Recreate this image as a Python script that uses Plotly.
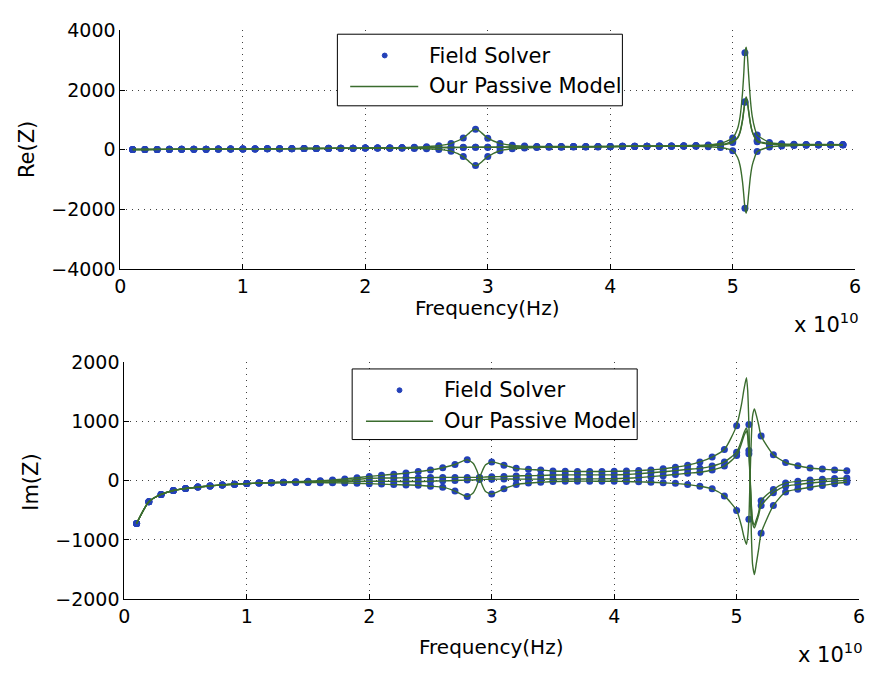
import plotly.graph_objects as go

# Sample frequencies of the field solver (GHz) and extra model frequencies near resonances
freq_ghz = list(range(1, 60))
extra_ghz = [28.5, 28.75, 29.25, 29.5, 50.4, 50.6, 50.8, 50.9, 51.1, 51.2, 51.3, 51.45, 51.6, 51.8]

# Re(Z) at the solver frequencies, four matrix entries
re_a = [10, 12, 14, 16, 18, 20, 22, 24, 26, 28,
        31, 34, 37, 40, 43, 46, 49, 52, 55, 58,
        61, 64, 70, 88, 106, 135, 215, 395, 690, 390,
        215, 150, 125, 115, 112, 110, 108, 107, 107, 108,
        118, 120, 122, 123, 122, 120, 116, 106, 79, -30,
        -1954, -60, 95, 130, 145, 155, 160, 165, 168]
re_b = [9, 11, 13, 15, 17, 19, 21, 23, 25, 27,
        30, 33, 36, 39, 42, 45, 48, 51, 54, 57,
        58, 52, 51, 47, 36, 14, -44, -226, -528, -226,
        -32, 34, 62, 77, 84, 88, 92, 95, 98, 101,
        118, 120, 122, 124, 130, 139, 148, 165, 210, 395,
        3250, 500, 246, 200, 185, 180, 178, 176, 175]
re_c = [11, 13, 15, 17, 19, 21, 23, 25, 27, 29,
        32, 35, 38, 41, 44, 47, 50, 53, 56, 59,
        62, 65, 68, 71, 74, 77, 80, 83, 86, 89,
        92, 95, 98, 101, 104, 106, 108, 110, 112, 114,
        116, 118, 120, 122, 124, 128, 133, 145, 167, 290,
        1610, 313, 200, 180, 172, 170, 170, 170, 170]
re_d = [10, 12, 14, 16, 18, 20, 22, 24, 26, 28,
        30, 33, 36, 39, 42, 45, 48, 51, 54, 57,
        60, 63, 66, 69, 72, 75, 78, 81, 84, 86,
        89, 92, 95, 98, 101, 103, 105, 107, 109, 111,
        113, 115, 117, 119, 121, 125, 130, 140, 160, 245,
        1590, 270, 190, 172, 166, 165, 165, 165, 165]

# Re(Z) of the model at the extra frequencies
re_a_x = [568, 654, 654, 568, -259, -525, -1067, -1488, -2120, -1920, -1488, -891, -515, -249]
re_b_x = [-406, -492, -492, -406, 711, 1100, 1896, 2513, 3440, 3146, 2513, 1650, 1110, 721]
re_c_x = [84, 85, 87, 88, 414, 607, 1002, 1309, 1770, 1624, 1309, 883, 617, 424]
re_d_x = [82, 83, 85, 85, 390, 580, 970, 1280, 1730, 1590, 1280, 860, 595, 405]

# Im(Z) at the solver frequencies
im_low = [-722, -355, -232, -166, -131, -108, -88, -72, -60, -49, -41, -34]
im_a = im_low + [-26, -18, -10, 0, 12, 30, 50, 72,
                 90, 108, 128, 153, 180, 219, 273, 355, 50, -225,
                 -137, -66, -38, -27, -15, -10, -8, -8, -9, -10,
                 -15, -20, -27, -35, -45, -66, -93, -137, -257, -503,
                 -650, 754, 438, 307, 251, 215, 195, 180, 169]
im_b = im_low + [-30, -30, -31, -33, -36, -38, -45, -50,
                 -58, -66, -72, -77, -93, -109, -175, -268, 45, 317,
                 262, 208, 191, 180, 164, 158, 155, 155, 156, 158,
                 162, 170, 182, 200, 227, 262, 317, 399, 525, 929,
                 946, -886, -421, -190, -145, -110, -80, -50, -27]
im_c = im_low + [-28, -22, -16, -10, -2, 6, 20, 40,
                 44, 46, 48, 50, 52, 55, 55, 55, 55, 66,
                 71, 80, 84, 88, 95, 98, 98, 98, 98, 98,
                 105, 118, 133, 150, 170, 191, 208, 246, 317, 481,
                 508, -339, -148, -38, -11, 10, 25, 35, 44]
im_d = im_low + [-30, -28, -26, -24, -22, -16, -12, -8,
                 -10, -12, -14, -15, -10, -3, 2, 10, 18, 24,
                 27, 27, 27, 27, 28, 28, 29, 30, 31, 32,
                 40, 52, 68, 85, 105, 126, 142, 180, 246, 426,
                 454, -421, -202, -93, -66, -40, -20, -5, 5]

# Im(Z) of the model at the extra frequencies
im_a_x = [289, 188, -88, -184, -770, -951, -1075, -950, 70, 711, 1090, 1210, 1111, 940]
im_b_x = [-203, -103, 173, 268, 1290, 1545, 1740, 1530, 60, -880, -1410, -1585, -1410, -1150]
im_c_x = [55, 55, 58, 62, 680, 810, 890, 806, 70, -397, -666, -747, -665, -530]
im_d_x = [12, 15, 20, 22, 630, 760, 840, 756, 20, -447, -716, -797, -715, -580]

x_ticks = [0, 1, 2, 3, 4, 5, 6]
re_ticks = [-4000, -2000, 0, 2000, 4000]
im_ticks = [-2000, -1000, 0, 1000, 2000]

W, H = 872, 675
DOT = "#2340b8"
LINE = "rgb(58,108,46)"
FONT = "DejaVu Sans"


def px(x):
    return x / W


def py(y):
    return 1 - y / H


def label(v):
    return str(v).replace("-", "\u2212")


def model(dots, extras):
    pts = sorted(zip(freq_ghz + extra_ghz, dots + extras))
    return [p[0] * 1e9 for p in pts], [p[1] for p in pts]


fig = go.Figure()
hz = [f * 1e9 for f in freq_ghz]

panels = [
    ("x", "y", [re_a, re_b, re_c, re_d], [re_a_x, re_b_x, re_c_x, re_d_x]),
    ("x2", "y2", [im_a, im_b, im_c, im_d], [im_a_x, im_b_x, im_c_x, im_d_x]),
]
for xa, ya, dots_list, extra_list in panels:
    for dots in dots_list:
        fig.add_trace(go.Scatter(x=hz, y=dots, mode="markers", xaxis=xa, yaxis=ya,
                                 marker=dict(color=DOT, size=7), showlegend=False))
    for dots, extras in zip(dots_list, extra_list):
        mx, my = model(dots, extras)
        fig.add_trace(go.Scatter(x=mx, y=my, mode="lines", xaxis=xa, yaxis=ya,
                                 line=dict(color=LINE, width=1.4, shape="spline", smoothing=0.6),
                                 showlegend=False))

axis_common = dict(
    showline=True, linecolor="black", linewidth=1,
    ticks="inside", ticklen=5, tickcolor="black",
    showgrid=True, gridcolor="rgba(0,0,0,0.75)", griddash="1px,5px", gridwidth=1,
    zeroline=False, tickfont=dict(family=FONT, size=19, color="black"),
)

fig.update_layout(
    width=W, height=H, margin=dict(l=0, r=0, t=0, b=0),
    paper_bgcolor="white", plot_bgcolor="white", showlegend=False,
    xaxis=dict(domain=[px(116), px(861)], anchor="y", range=[0, 6e10],
               tickvals=[t * 1e10 for t in x_ticks], ticktext=[str(t) for t in x_ticks], **axis_common),
    yaxis=dict(domain=[py(267), py(20)], anchor="x", range=[-4000, 4000],
               tickvals=re_ticks, ticktext=[label(t) for t in re_ticks], **axis_common),
    xaxis2=dict(domain=[px(120), px(865)], anchor="y2", range=[0, 6e10],
                tickvals=[t * 1e10 for t in x_ticks], ticktext=[str(t) for t in x_ticks], **axis_common),
    yaxis2=dict(domain=[py(608), py(363)], anchor="x2", range=[-2000, 2000],
                tickvals=im_ticks, ticktext=[label(t) for t in im_ticks], **axis_common),
)

txt = dict(family=FONT, size=21, color="black")
ann = [
    dict(x=px(488), y=py(307), text="Frequency(Hz)", font=dict(family=FONT, size=20, color="black")),
    dict(x=px(492), y=py(657), text="Frequency(Hz)", font=dict(family=FONT, size=20, color="black")),
    dict(x=px(22), y=py(143), text="Re(Z)", textangle=-90, font=txt),
    dict(x=px(25), y=py(487), text="Im(Z)", textangle=-90, font=txt),
    dict(x=px(832), y=py(322), text="x 10<sup>10</sup>", font=txt),
    dict(x=px(836), y=py(664), text="x 10<sup>10</sup>", font=txt),
]
for a in ann:
    fig.add_annotation(xref="paper", yref="paper", showarrow=False,
                       xanchor="center", yanchor="middle", **a)

# Legend boxes drawn with shapes and text
legends = [
    dict(box=(336, 24, 625, 98), dot=(384, 46), line=(349, 418, 78), text_x=427, rows=(46, 78)),
    dict(box=(351, 370, 640, 443), dot=(399, 392), line=(365, 433, 424), text_x=442, rows=(392, 424)),
]
for lg in legends:
    x0, y0, x1, y1 = lg["box"]
    fig.add_shape(type="rect", xref="paper", yref="paper", x0=px(x0), x1=px(x1), y0=py(y1), y1=py(y0),
                  line=dict(color="black", width=1), fillcolor="white", layer="above")
    dx, dy = lg["dot"]
    fig.add_shape(type="circle", xref="paper", yref="paper", x0=px(dx - 2.5), x1=px(dx + 2.5),
                  y0=py(dy + 2.5), y1=py(dy - 2.5), line=dict(color=DOT, width=1), fillcolor=DOT)
    lx0, lx1, ly = lg["line"]
    fig.add_shape(type="line", xref="paper", yref="paper", x0=px(lx0), x1=px(lx1), y0=py(ly), y1=py(ly),
                  line=dict(color=LINE, width=1.5))
    for t, ry in zip(["Field Solver", "Our Passive Model"], lg["rows"]):
        fig.add_annotation(xref="paper", yref="paper", x=px(lg["text_x"]), y=py(ry), text=t,
                           showarrow=False, font=txt, xanchor="left", yanchor="middle")

fig.write_html("out.html")
